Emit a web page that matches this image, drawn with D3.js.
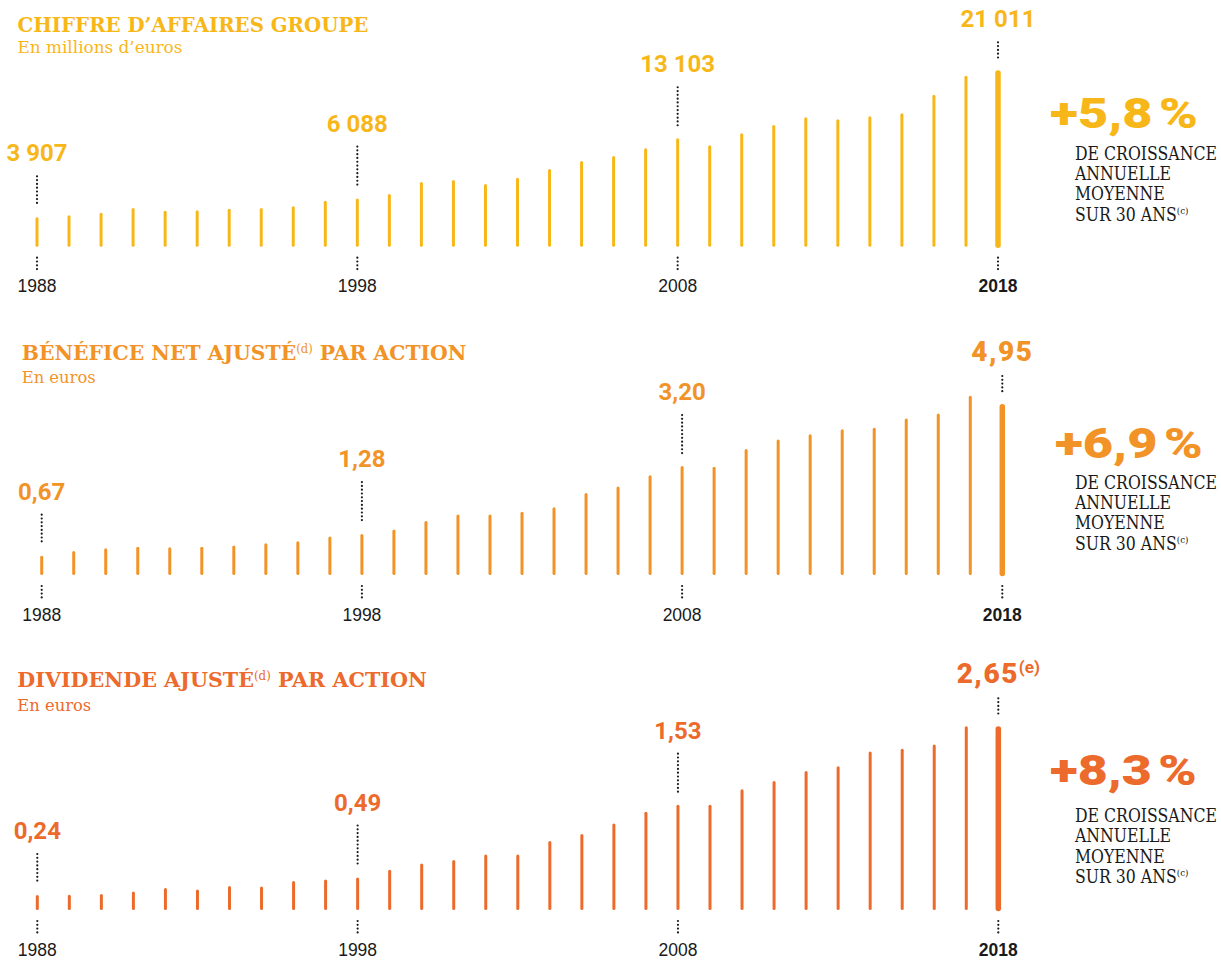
<!DOCTYPE html>
<html lang="fr">
<head>
  <meta charset="utf-8">
  <title>Chiffre d'affaires, BNPA et dividende sur 30 ans</title>
  <script src="https://cdn.jsdelivr.net/npm/d3@7"></script>
  <style>
    body { margin: 0; background: #fff; }
    .titre { font-family: "DejaVu Serif", serif; font-weight: bold; font-size: 21px; }
    .sous-titre { font-family: "DejaVu Serif", serif; font-size: 16px; }
    .valeur { font-family: Roboto, "Liberation Sans", sans-serif; font-weight: 700; font-size: 24px; text-anchor: middle; }
    .valeur.grand { font-weight: 900; font-size: 28px; letter-spacing: 1.5px; }
    .annee { font-family: "Liberation Sans", Arial, sans-serif; font-size: 17.5px; fill: #1a1a1a; text-anchor: middle; }
    .croissance { font-family: Roboto, sans-serif; font-weight: 900; font-size: 42px; }
    .legende { font-family: "DejaVu Serif", serif; font-size: 18px; fill: #1a1a1a; }
    .pointilles { stroke: #1a1a1a; stroke-width: 2.2; stroke-linecap: round; stroke-dasharray: 0 3.8; fill: none; }
  </style>
</head>
<body>
<div id="chart"></div>
<script>
"use strict"

// --- donnees ---
const annees = [1988, 1989, 1990, 1991, 1992, 1993, 1994, 1995, 1996, 1997,
                1998, 1999, 2000, 2001, 2002, 2003, 2004, 2005, 2006, 2007,
                2008, 2009, 2010, 2011, 2012, 2013, 2014, 2015, 2016, 2017, 2018]

// chiffre d'affaires groupe, millions d'euros
const chiffreAffaires = [3907, 4140, 4442, 4989, 4675, 4721, 4908, 4990, 5187, 5839,
                         6088, 6618, 8014, 8247, 7782, 8515, 9527, 10458, 11040, 11936,
                         13103, 12285, 13681, 14647, 15543, 15310, 15659, 16008, 18173, 20383, 21011]

// benefice net ajuste par action, euros
const bnpa = [0.67, 0.80, 0.88, 0.92, 0.91, 0.92, 0.96, 1.02, 1.08, 1.21,
              1.28, 1.41, 1.65, 1.83, 1.83, 1.91, 2.04, 2.44, 2.62, 2.94,
              3.20, 3.18, 3.68, 3.95, 4.10, 4.24, 4.28, 4.54, 4.68, 5.18, 4.95]

// dividende ajuste par action, euros
const dividende = [0.24, 0.245, 0.255, 0.29, 0.34, 0.32, 0.37, 0.36, 0.44, 0.46,
                   0.49, 0.60, 0.69, 0.74, 0.82, 0.82, 1.01, 1.11, 1.26, 1.43,
                   1.53, 1.53, 1.75, 1.87, 2.01, 2.08, 2.29, 2.33, 2.39, 2.65, 2.65]

const anneesCles = [1988, 1998, 2008, 2018]
const etiquettesCA = ["3 907", "6 088", "13 103", "21 011"]
const etiquettesBNPA = ["0,67", "1,28", "3,20", "4,95"]
const etiquettesDiv = ["0,24", "0,49", "1,53", "2,65^(e)"]

const titres = ["CHIFFRE D’AFFAIRES GROUPE", "BÉNÉFICE NET AJUSTÉ^(d)^ PAR ACTION", "DIVIDENDE AJUSTÉ^(d)^ PAR ACTION"]
const sousTitres = ["En millions d’euros", "En euros", "En euros"]
const croissances = ["+5,8\u202F%", "+6,9\u202F%", "+8,3\u202F%"]
const legende = ["DE CROISSANCE", "ANNUELLE", "MOYENNE", "SUR 30 ANS^(c)"]

// --- mise en page ---
const larguraSVG = 1221, alturaSVG = 960
const panneaux = [
  { valeurs: chiffreAffaires, etiquettes: etiquettesCA, couleur: "#F8B719", base: 246.7, x0: 37, x1: 998,
    hMax: 176.4, plancher: 486, titreX: 17.5, titreY: 31.5, titreW: 351, sousY: 52.5, sousW: 165,
    pctX: 1050, pctY: 128, pctW: 148, legY: 159.5, grand: false },
  { valeurs: bnpa, etiquettes: etiquettesBNPA, couleur: "#F29327", base: 575, x0: 41.7, x1: 1002.3,
    hMax: 171, plancher: 0.1255, titreX: 21.7, titreY: 360, titreW: 445, sousY: 383, sousW: 74,
    pctX: 1055, pctY: 458, pctW: 147.7, legY: 488.5, grand: true },
  { valeurs: dividende, etiquettes: etiquettesDiv, couleur: "#EC6A2B", base: 910, x0: 37.3, x1: 998.3,
    hMax: 183.7, plancher: 0.026, titreX: 17.3, titreY: 687, titreW: 410, sousY: 711, sousW: 74,
    pctX: 1050, pctY: 785, pctW: 146.7, legY: 821.7, grand: true }
]
const elevation = [56, 67, 66, 43] // distance haut de barre -> ligne de base de l'etiquette

const svg = d3.select("#chart").append("svg")
  .attr("width", larguraSVG)
  .attr("height", alturaSVG)

// texte avec exposants: "a^(b)^c" -> a, (b) en exposant, c
function ecrire(texte, chaine, tailleExp, decalage, poidsExp) {
  const morceaux = chaine.split("^")
  morceaux.forEach(function(m, i) {
    if (m === "") return
    const t = texte.append("tspan").text(m)
    if (i % 2 === 1) {
      t.attr("font-size", tailleExp).attr("dy", -decalage).attr("letter-spacing", 0)
      if (poidsExp) t.attr("font-weight", poidsExp)
    } else if (i > 0) {
      t.attr("dy", decalage)
    }
  })
  return texte
}

// ajuste la largeur d'un texte (les polices locales ne sont pas celles d'origine)
function ajuster(texte, largeur) {
  const b = texte.node().getBBox()
  texte.attr("transform", "scale(" + (largeur / b.width) + ",1) translate(" + (-b.x) + ",0)")
}

panneaux.forEach(function(p, k) {
  const dados = annees.map((a, i) => ({ annee: a, valeur: p.valeurs[i] }))
  const x = d3.scaleLinear().domain([1988, 2018]).range([p.x0, p.x1])
  const y = d3.scaleLinear().domain([p.plancher, p.valeurs[p.valeurs.length - 1]]).range([p.base, p.base - p.hMax])
  const g = svg.append("g")

  // titre
  const gt = g.append("g").attr("transform", "translate(" + p.titreX + "," + p.titreY + ")")
  const tt = ecrire(gt.append("text").attr("class", "titre").attr("fill", p.couleur), titres[k], 12, 7, "normal")
  ajuster(tt, p.titreW)
  const gs = g.append("g").attr("transform", "translate(" + p.titreX + "," + p.sousY + ")")
  const ts = gs.append("text").attr("class", "sous-titre").attr("fill", p.couleur).text(sousTitres[k])
  ajuster(ts, p.sousW)

  // barres
  g.selectAll("line.barre")
    .data(dados)
    .enter()
    .append("line")
      .attr("class", "barre")
      .attr("x1", d => x(d.annee))
      .attr("x2", d => x(d.annee))
      .attr("y1", p.base - 1.5)
      .attr("y2", d => y(d.valeur) + (d.annee === 2018 ? 2.75 : 1.5))
      .attr("stroke", p.couleur)
      .attr("stroke-width", d => d.annee === 2018 ? 5.5 : 3)
      .attr("stroke-linecap", "round")

  // annees cles: pointilles, valeurs, annees
  const cles = dados.filter(d => anneesCles.indexOf(d.annee) >= 0)
  cles.forEach(function(d, i) {
    const cx = x(d.annee)
    const haut = y(d.valeur)
    const yEtiq = haut - elevation[i]
    g.append("line").attr("class", "pointilles")
      .attr("x1", cx).attr("x2", cx)
      .attr("y1", yEtiq + 15).attr("y2", haut - 11)
    g.append("line").attr("class", "pointilles")
      .attr("x1", cx).attr("x2", cx)
      .attr("y1", p.base + 11).attr("y2", p.base + 22.5)

    const grand = p.grand && d.annee === 2018
    const te = g.append("text")
      .attr("class", grand ? "valeur grand" : "valeur")
      .attr("x", cx).attr("y", yEtiq)
      .attr("fill", p.couleur)
    ecrire(te, p.etiquettes[i], 17, 10, "bold")

    const ta = g.append("text").attr("class", "annee")
      .attr("x", cx).attr("y", p.base + 45.5)
      .text(d.annee)
    if (d.annee === 2018) ta.attr("font-weight", "bold").attr("fill", p.couleur)
  })

  // croissance annuelle moyenne
  const gp = g.append("g").attr("transform", "translate(" + p.pctX + "," + p.pctY + ")")
  const tp = gp.append("text").attr("class", "croissance").attr("fill", p.couleur).text(croissances[k])
  ajuster(tp, p.pctW)

  const gl = g.append("g").attr("transform", "translate(1075," + p.legY + ")")
  const bloc = gl.append("g")
  legende.forEach(function(l, j) {
    const tl = bloc.append("text").attr("class", "legende").attr("y", j * 20.5)
    ecrire(tl, l, 10, 7)
  })
  const premiere = bloc.select("text").node().getBBox()
  bloc.attr("transform", "scale(" + (142 / premiere.width) + ",1) translate(" + (-premiere.x) + ",0)")
})
</script>
</body>
</html>
